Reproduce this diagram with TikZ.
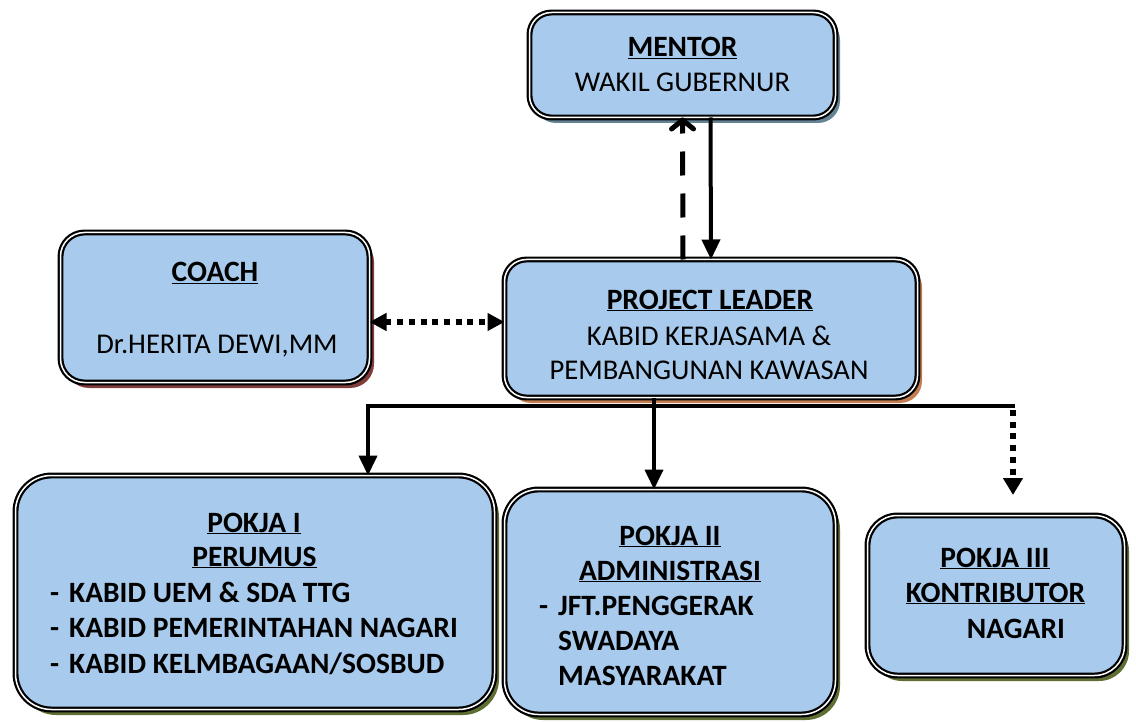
\documentclass[tikz,border=0pt]{standalone}
\usepackage{fontspec}
\setmainfont{Carlito}
\usetikzlibrary{shadows,arrows.meta}
\definecolor{boxblue}{RGB}{168,202,236}
\definecolor{shblue}{RGB}{100,132,150}
\definecolor{shred}{RGB}{130,60,60}
\definecolor{shorange}{RGB}{195,125,80}
\definecolor{shgreen}{RGB}{95,110,50}
\tikzset{
  orgbox/.style={draw=black, line width=2.2pt, double=white, double distance=1.5pt,
    fill=boxblue, inner sep=0pt, outer sep=0pt},
  boxshadow/.style={drop shadow={shadow xshift=4.5pt, shadow yshift=-5.5pt, fill=#1, opacity=1}},
  lbl/.style={inner sep=0pt, anchor=base, font=\fontsize{28.6}{34}\selectfont},
  lblb/.style={lbl, font=\fontsize{29.5}{34}\selectfont\bfseries},
  lblbl/.style={lblb, anchor=base west},
  solidarrow/.style={line width=4pt, -{Triangle[length=20pt,width=18pt]}},
  dotline/.style={line width=6pt, dash pattern=on 6pt off 5.7pt},
  busline/.style={line width=4pt}
}
\newcommand{\dashitem}[1]{\makebox[19pt][l]{-}#1}
\begin{document}
\begin{tikzpicture}[x=1pt,y=-1pt]
\useasboundingbox (0,0) rectangle (1136,722);

% boxes
\node[orgbox, boxshadow=shblue, rounded corners=22pt, minimum width=306pt, minimum height=105pt] (mentor) at (682.5,65) {};
\node[orgbox, boxshadow=shred, rounded corners=24pt, minimum width=309pt, minimum height=150pt] (coach) at (215,307.5) {};
\node[orgbox, boxshadow=shorange, rounded corners=22pt, minimum width=413pt, minimum height=138pt] (pl) at (711,328.5) {};
\node[orgbox, boxshadow=shgreen, rounded corners=36pt, minimum width=479pt, minimum height=234pt] (p1) at (255,592.5) {};
\node[orgbox, boxshadow=shgreen, rounded corners=34pt, minimum width=331pt, minimum height=225pt] (p2) at (670,602) {};
\node[orgbox, boxshadow=shgreen, rounded corners=30pt, minimum width=257pt, minimum height=160pt] (p3) at (996,595.5) {};

% texts
\node[lblb] (mt1) at (682.5,57) {\underline{MENTOR}};
\node[lbl]  (mt2) at (682.5,92) {WAKIL GUBERNUR};

\node[lblb] (ct1) at (215,282) {\underline{COACH}};
\node[lbl]  (ct2) at (217,353) {Dr.HERITA DEWI,MM};

\node[lblb] (pt1) at (710,309) {\underline{PROJECT LEADER}};
\node[lbl]  (pt2) at (709,345) {KABID KERJASAMA \&};
\node[lbl]  (pt3) at (709,379) {PEMBANGUNAN KAWASAN};

\node[lblb] (a1) at (254,532) {\underline{POKJA I}};
\node[lblb] (a2) at (254.5,566) {\underline{PERUMUS}};
\node[lblbl] (a3) at (50,602) {\dashitem{KABID UEM \& SDA TTG}};
\node[lblbl] (a4) at (50,637) {\dashitem{KABID PEMERINTAHAN NAGARI}};
\node[lblbl] (a5) at (50,673) {\dashitem{KABID KELMBAGAAN/SOSBUD}};

\node[lblb] (b1) at (670,545) {\underline{POKJA II}};
\node[lblb] (b2) at (670,580) {\underline{ADMINISTRASI}};
\node[lblbl] (b3) at (539,615) {\dashitem{JFT.PENGGERAK}};
\node[lblbl] (b4) at (558,650) {SWADAYA};
\node[lblbl] (b5) at (558,685) {MASYARAKAT};

\node[lblb] (c1) at (995,567) {\underline{POKJA III}};
\node[lblb] (c2) at (995.5,602) {\underline{KONTRIBUTOR}};
\node[lblb] (c3) at (1016,638) {NAGARI};

% mentor <-> project leader
\draw[line width=5pt, dash pattern=on 24pt off 18pt, -{Straight Barb[round,length=9pt,width=22pt]}]
  ([xshift=-28pt]pl.north) -- (mentor.south);
\draw[solidarrow] ([xshift=28pt]mentor.south) -- (pl.north);

% coach <-> project leader
\coordinate (cp) at (0,322);
\draw[dotline, {Triangle[length=17pt,width=17pt]}-{Triangle[length=17pt,width=17pt]}]
  (coach.east |- cp) -- (pl.west |- cp);

% bus
\coordinate (busL) at (368,406);
\coordinate (busM) at (654,406);
\coordinate (busR) at (1013,406);
\coordinate (p3tip) at (1013,495);
\draw[busline] (pl.south -| busM) -- (busM);
\draw[busline, line cap=rect] (busL) -- (busR);
\draw[solidarrow] (busL) -- (busL |- p1.north);
\draw[solidarrow] (busM) -- (busM |- p2.north);
\draw[dotline, -{Triangle[length=17pt,width=19pt]}] ([yshift=-4pt]busR) -- (p3tip);
\end{tikzpicture}
\end{document}
